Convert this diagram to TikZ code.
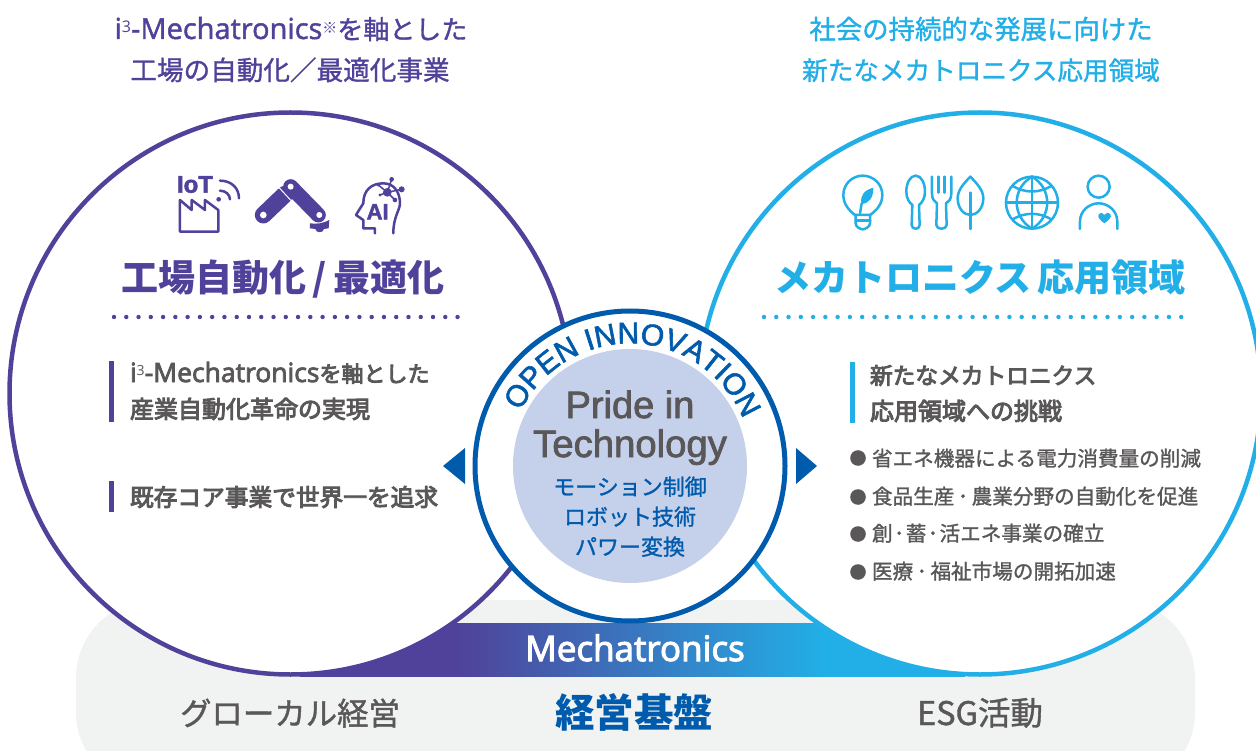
\documentclass[tikz,border=0pt]{standalone}
\usepackage{fontspec}
\setmainfont{Noto Sans CJK JP}
\newfontfamily\lat{Liberation Sans}[FakeBold=2]
\newfontfamily\pop{Open Sans}
\newfontfamily\popm{Open Sans}[FakeBold=1.5]
\newfontfamily\popb{Open Sans}[FakeBold=3]
\newfontfamily\med{Noto Sans CJK JP}[FakeBold=1.2]
\newfontfamily\semi{Noto Sans CJK JP}[FakeBold=4]
\usetikzlibrary{decorations.text}
\definecolor{pur}{HTML}{50429A}
\definecolor{cya}{HTML}{22AEE6}
\definecolor{blu}{HTML}{005BAC}
\definecolor{dsk}{HTML}{C5D0EB}
\definecolor{gry}{HTML}{595757}
\definecolor{pil}{HTML}{F1F3F3}
\newcommand{\fs}[1]{\fontsize{#1}{#1}\selectfont}
\tikzset{x=1pt,y=-1pt,
 txt/.style={inner sep=0pt,outer sep=0pt,anchor=base},
 txl/.style={inner sep=0pt,outer sep=0pt,anchor=base west},
 iconp/.style={draw=pur,line width=2.5pt,line join=round,line cap=round},
 iconc/.style={draw=cya,line width=2.5pt,line join=round,line cap=round},
 zoomL/.style={shift={(100,160)},x=0.3333pt,y=-0.3333pt},
 zoomR/.style={shift={(820,160)},x=0.3333pt,y=-0.3333pt},
 bigc/.style={circle,minimum size=562pt,inner sep=0pt,outer sep=0pt,line width=4.5pt,fill=white},
 dots/.style={line width=4.4pt,line cap=round,dash pattern=on 0pt off 12.27pt},
}
\begin{document}
\begin{tikzpicture}
\useasboundingbox (0,0) rectangle (1256,751);
\clip (0,0) rectangle (1256,751);
\fill[white] (0,0) rectangle (1256,751);
% pill
\fill[pil,rounded corners=78pt] (76,600) rectangle (1195,790);
% band
\begin{scope}
\clip (300,623) rectangle (965,676);
\fill[pur] (300,600) rectangle (457,700);
\fill[cya] (822,600) rectangle (965,700);
\shade[left color=pur,right color=cya] (456,600) rectangle (823,700);
\end{scope}
% big circles
\node[bigc,draw=pur] (lc) at (290.5,393.5) {};
\node[bigc,draw=cya] (rc) at (980,393.5) {};
% centre
\node[circle,minimum size=310pt,inner sep=0pt,outer sep=0pt,line width=5pt,draw=blu,fill=white] (ring) at (630,466) {};
\node[circle,minimum size=234pt,inner sep=0pt,outer sep=0pt,fill=dsk] (disk) at (630,466) {};
\begin{scope}[shift={(630,466)},y=1pt]
\path[decorate,decoration={text along path,text align=center,
  text={|\lat\fs{30}\color{blu}|OPEN INNOVATION}}]
  (155:122.5) arc[start angle=155,end angle=21,radius=122.5];
\end{scope}
% triangles
\fill[blu] (443,466) -- (465,448) -- (465,484) -- cycle;
\fill[blu] (817,466) -- (796,448) -- (796,484) -- cycle;
% headings
\node[txt,text=pur] (h1) at (291,39) {{\popm\fs{29}i}\raisebox{.62em}{\pop\fs{16}3}{\popm\fs{29}-Mechatronics}\raisebox{.55em}{\fs{15}※}{\med\fs{26}を軸とした}};
\node[txt,text=pur] (h2) at (290,80) {\med\fs{26.6}工場の自動化／最適化事業};
\node[txt,text=cya] (h3) at (981,39) {\med\fs{26.4}社会の持続的な発展に向けた};
\node[txt,text=cya] (h4) at (981,80) {\med\fs{25.6}新たなメカトロニクス応用領域};
\node[txt,text=pur] (t1) at (283,292) {\fs{37}\bfseries 工場自動化\hspace{6pt}/\hspace{6pt}最適化};
\node[txt,text=cya] (t2) at (980,292) {\fs{37}\bfseries メカトロニクス\hspace{6pt}応用領域};
% dotted
\draw[pur,dots] (114,317) -- (460,317);
\draw[cya,dots] (764,317) -- (1190,317);
% bars
\fill[pur] (109,361) rectangle (114,422);
\fill[pur] (109,481) rectangle (114,512);
\fill[cya] (850,362) rectangle (855,423);
% left text
\node[txl,text=gry] (l1) at (130,382) {{\popb\fs{26.5}i}\raisebox{.62em}{\pop\fs{14}3}{\popb\fs{26.5}-Mechatronics}{\semi\fs{22}を軸とした}};
\node[txl,text=gry] (l2) at (130,418) {\semi\fs{24}産業自動化革命の実現};
\node[txl,text=gry] (l3) at (130,506) {\semi\fs{23.7}既存コア事業で世界一を追求};
% right text
\node[txl,text=gry] (r1) at (870,384) {\semi\fs{22.7}新たなメカトロニクス};
\node[txl,text=gry] (r2) at (870,420) {\semi\fs{24}応用領域への挑戦};
\fill[gry] (858,458) circle[radius=7.8];
\fill[gry] (858,497) circle[radius=7.8];
\fill[gry] (858,534) circle[radius=7.8];
\fill[gry] (858,572) circle[radius=7.8];
\node[txl,text=gry] (ra) at (872,466) {\med\fs{20.6}省エネ機器による電力消費量の削減};
\node[txl,text=gry] (rb) at (872,504) {\med\fs{20.6}食品生産\hspace{.17em}･\hspace{.17em}農業分野の自動化を促進};
\node[txl,text=gry] (rc) at (872,541) {\med\fs{20.6}創\hspace{.07em}･\hspace{.07em}蓄\hspace{.07em}･\hspace{.07em}活エネ事業の確立};
\node[txl,text=gry] (rd) at (872,579) {\med\fs{20.6}医療\hspace{.17em}･\hspace{.17em}福祉市場の開拓加速};
% centre text
\node[txt,text=gry] (p1) at (630,418) {\lat\fs{38}Pride in};
\node[txt,text=gry] (p2) at (630,457) {\lat\fs{38.3}Technology};
\node[txt,text=blu] (c1) at (630,495) {\med\fs{22}モーション制御};
\node[txt,text=blu] (c2) at (630,525) {\med\fs{22}ロボット技術};
\node[txt,text=blu] (c3) at (630,555) {\med\fs{22}パワー変換};
% bottom
\node[txt,text=white] (m) at (635,661) {\popb\fs{35}Mechatronics};
\node[txt,text=gry] (b1) at (290,725) {\med\fs{31.4}グローカル経営};
\node[txt,text=blu] (b2) at (634,727) {\fs{39.5}\bfseries 経営基盤};
\node[txt,text=gry] (b3) at (980,725) {\med\fs{32.5}ESG活動};
% left icons
\begin{scope}[zoomL]
 \node[txt,text=pur] (iot) at (285,98) {\lat\bfseries\fs{24}IoT};
 \draw[iconp] (240,120) -- (240,215) -- (355,215) -- (355,150) -- (315,120) -- (315,150) -- (275,120) -- (275,150) -- cycle;
 \fill[pur] (356,118) circle[radius=7];
 \draw[iconp] (360,92) .. controls (378,92) and (390,105) .. (390,118);
 \draw[iconp] (360,62) .. controls (395,62) and (417,85) .. (417,115);
 % robot
 \draw[pur,line width=17pt,line cap=round] (490,165) -- (555,103);
 \draw[white,line width=1pt] (530,75) -- (590,140);
 \draw[pur,line width=15pt,line cap=round] (572,80) -- (655,165);
 \fill[white] (490,165) circle[radius=10];
 \fill[white] (572,80) circle[radius=9];
 \fill[white] (658,165) circle[radius=9];
 \fill[pur] (630,190) .. controls (650,193) and (670,190) .. (688,180) -- (686,205) -- (672,207) .. controls (670,220) and (648,220) .. (646,207) -- (630,205) -- cycle;
 % AI
 \draw[iconp] (825,220) -- (825,205) -- (790,205) -- (790,180) -- (768,165) -- (790,130) .. controls (790,90) and (815,70) .. (850,70) .. controls (885,70) and (900,100) .. (900,130) .. controls (900,150) and (880,170) .. (880,220);
 \node[txt,text=pur] (ai) at (833,178) {\lat\bfseries\fs{22}AI};
 \draw[pur,line width=1.5pt] (835,75) -- (862,97) -- (875,58) (862,97) -- (905,88) (862,97) -- (885,120) (862,97) -- (840,105);
 \fill[pur] (862,97) circle[radius=13] (875,58) circle[radius=7] (905,88) circle[radius=9] (885,120) circle[radius=7] (835,75) circle[radius=5] (840,105) circle[radius=5];
\end{scope}
% right icons
\begin{scope}[zoomR]
 % bulb
 \draw[iconc] (105,165) .. controls (85,150) and (70,130) .. (70,105) .. controls (70,72) and (97,47) .. (128,47) .. controls (160,47) and (187,72) .. (187,105) .. controls (187,130) and (172,150) .. (150,165) -- cycle;
 \draw[iconc] (107,165) -- (107,190) .. controls (107,200) and (120,208) .. (128,208) .. controls (136,208) and (150,200) .. (150,190) -- (150,165);
 \draw[iconc] (107,182) -- (150,182);
 \fill[cya] (125,132) .. controls (118,105) and (135,90) .. (160,83) .. controls (160,110) and (150,130) .. (125,132) -- cycle;
 \draw[iconc] (125,130) -- (120,160);
 % spoon
 \draw[iconc] (287,47) .. controls (270,47) and (259,70) .. (259,95) .. controls (259,115) and (268,128) .. (277,135) -- (275,195) .. controls (275,210) and (299,210) .. (299,195) -- (297,135) .. controls (306,128) and (315,115) .. (315,95) .. controls (315,70) and (304,47) .. (287,47) -- cycle;
 % fork
 \draw[iconc] (336,50) -- (336,100) .. controls (336,120) and (345,125) .. (351,130) -- (349,195) .. controls (349,210) and (380,210) .. (380,195) -- (378,130) .. controls (385,125) and (394,120) .. (394,100) -- (394,50);
 \draw[iconc] (356,50) -- (356,98);
 \draw[iconc] (374,50) -- (374,98);
 % leaf
 \draw[iconc] (451,50) .. controls (470,70) and (490,90) .. (490,115) .. controls (490,145) and (470,165) .. (451,165) .. controls (432,165) and (413,145) .. (413,115) .. controls (413,90) and (432,70) .. (451,50) -- cycle;
 \draw[iconc] (451,98) -- (451,207);
 % globe
 \draw[iconc] (636,128) circle[radius=78];
 \draw[iconc] (636,50) -- (636,206) (558,128) -- (714,128);
 \draw[iconc] (636,50) .. controls (575,85) and (575,170) .. (636,206);
 \draw[iconc] (636,50) .. controls (697,85) and (697,170) .. (636,206);
 \draw[iconc] (578,78) .. controls (615,100) and (657,100) .. (694,78);
 \draw[iconc] (578,178) .. controls (615,156) and (657,156) .. (694,178);
 % person
 \draw[iconc] (836,80) circle[radius=33];
 \draw[iconc] (780,207) -- (780,185) .. controls (780,150) and (810,130) .. (836,130) .. controls (862,130) and (892,150) .. (892,185) -- (892,207);
 \fill[cya] (853,190) .. controls (840,180) and (832,172) .. (836,164) .. controls (842,156) and (850,158) .. (853,165) .. controls (856,158) and (866,156) .. (872,164) .. controls (876,172) and (866,180) .. (853,190) -- cycle;
\end{scope}
\end{tikzpicture}
\end{document}
